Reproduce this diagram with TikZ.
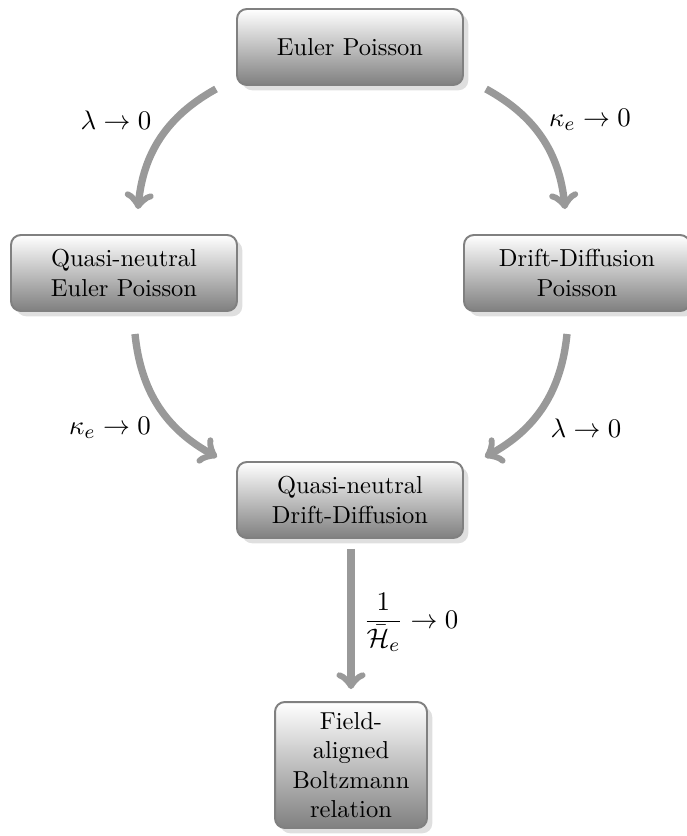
\documentclass[tikz,border=0pt]{standalone}
\usepackage{amsmath}
\usetikzlibrary{shadows}
\begin{document}
\begin{tikzpicture}[x=0.408pt,y=-0.408pt,
  box/.style={draw=gray, thick, rounded corners=4pt, top color=white, bottom color=gray,
    drop shadow={opacity=0.25}, align=center, minimum width=92.2pt, minimum height=31pt, inner sep=2pt},
  conn/.style={->, line width=3pt, draw=gray!80},
  lab/.style={inner sep=1pt, font=\fontsize{11}{13}\selectfont}]
\useasboundingbox (0,0) rectangle (686,836);

\node[box] (ep) at (350,47) {Euler Poisson};
\node[box] (qnep) at (124,273) {Quasi-neutral\\Euler Poisson};
\node[box] (ddp) at (577,273) {Drift-Diffusion\\Poisson};
\node[box] (qndd) at (350,500) {Quasi-neutral\\Drift-Diffusion};
\node[box, minimum width=62pt, minimum height=51.4pt] (fab) at (351,765) {Field-\\aligned\\Boltzmann\\relation};

\draw[conn] ([shift={(-20,3)}]ep.south west) to[bend right=28] ([shift={(14,-25)}]qnep.north);
\draw[conn] ([shift={(22,3)}]ep.south east) to[bend left=28] ([shift={(-12,-25)}]ddp.north);
\draw[conn] ([shift={(11,22)}]qnep.south) to[bend right=28] ([shift={(-19,-4)}]qndd.north west);
\draw[conn] ([shift={(-10,22)}]ddp.south) to[bend left=28] ([shift={(21,-4)}]qndd.north east);
\draw[conn] ([shift={(1,10)}]qndd.south) -- ([shift={(0,-12)}]fab.north);

\node[lab] (l1) at (116,120) {$\lambda \to 0$};
\node[lab] (l2) at (590,120) {$\kappa_e \to 0$};
\node[lab] (l3) at (110,428) {$\kappa_e \to 0$};
\node[lab] (l4) at (586,428) {$\lambda \to 0$};
\node[lab] (l5) at (411,622) {$\dfrac{1}{\bar{\mathcal{H}}_e} \to 0$};
\end{tikzpicture}
\end{document}
